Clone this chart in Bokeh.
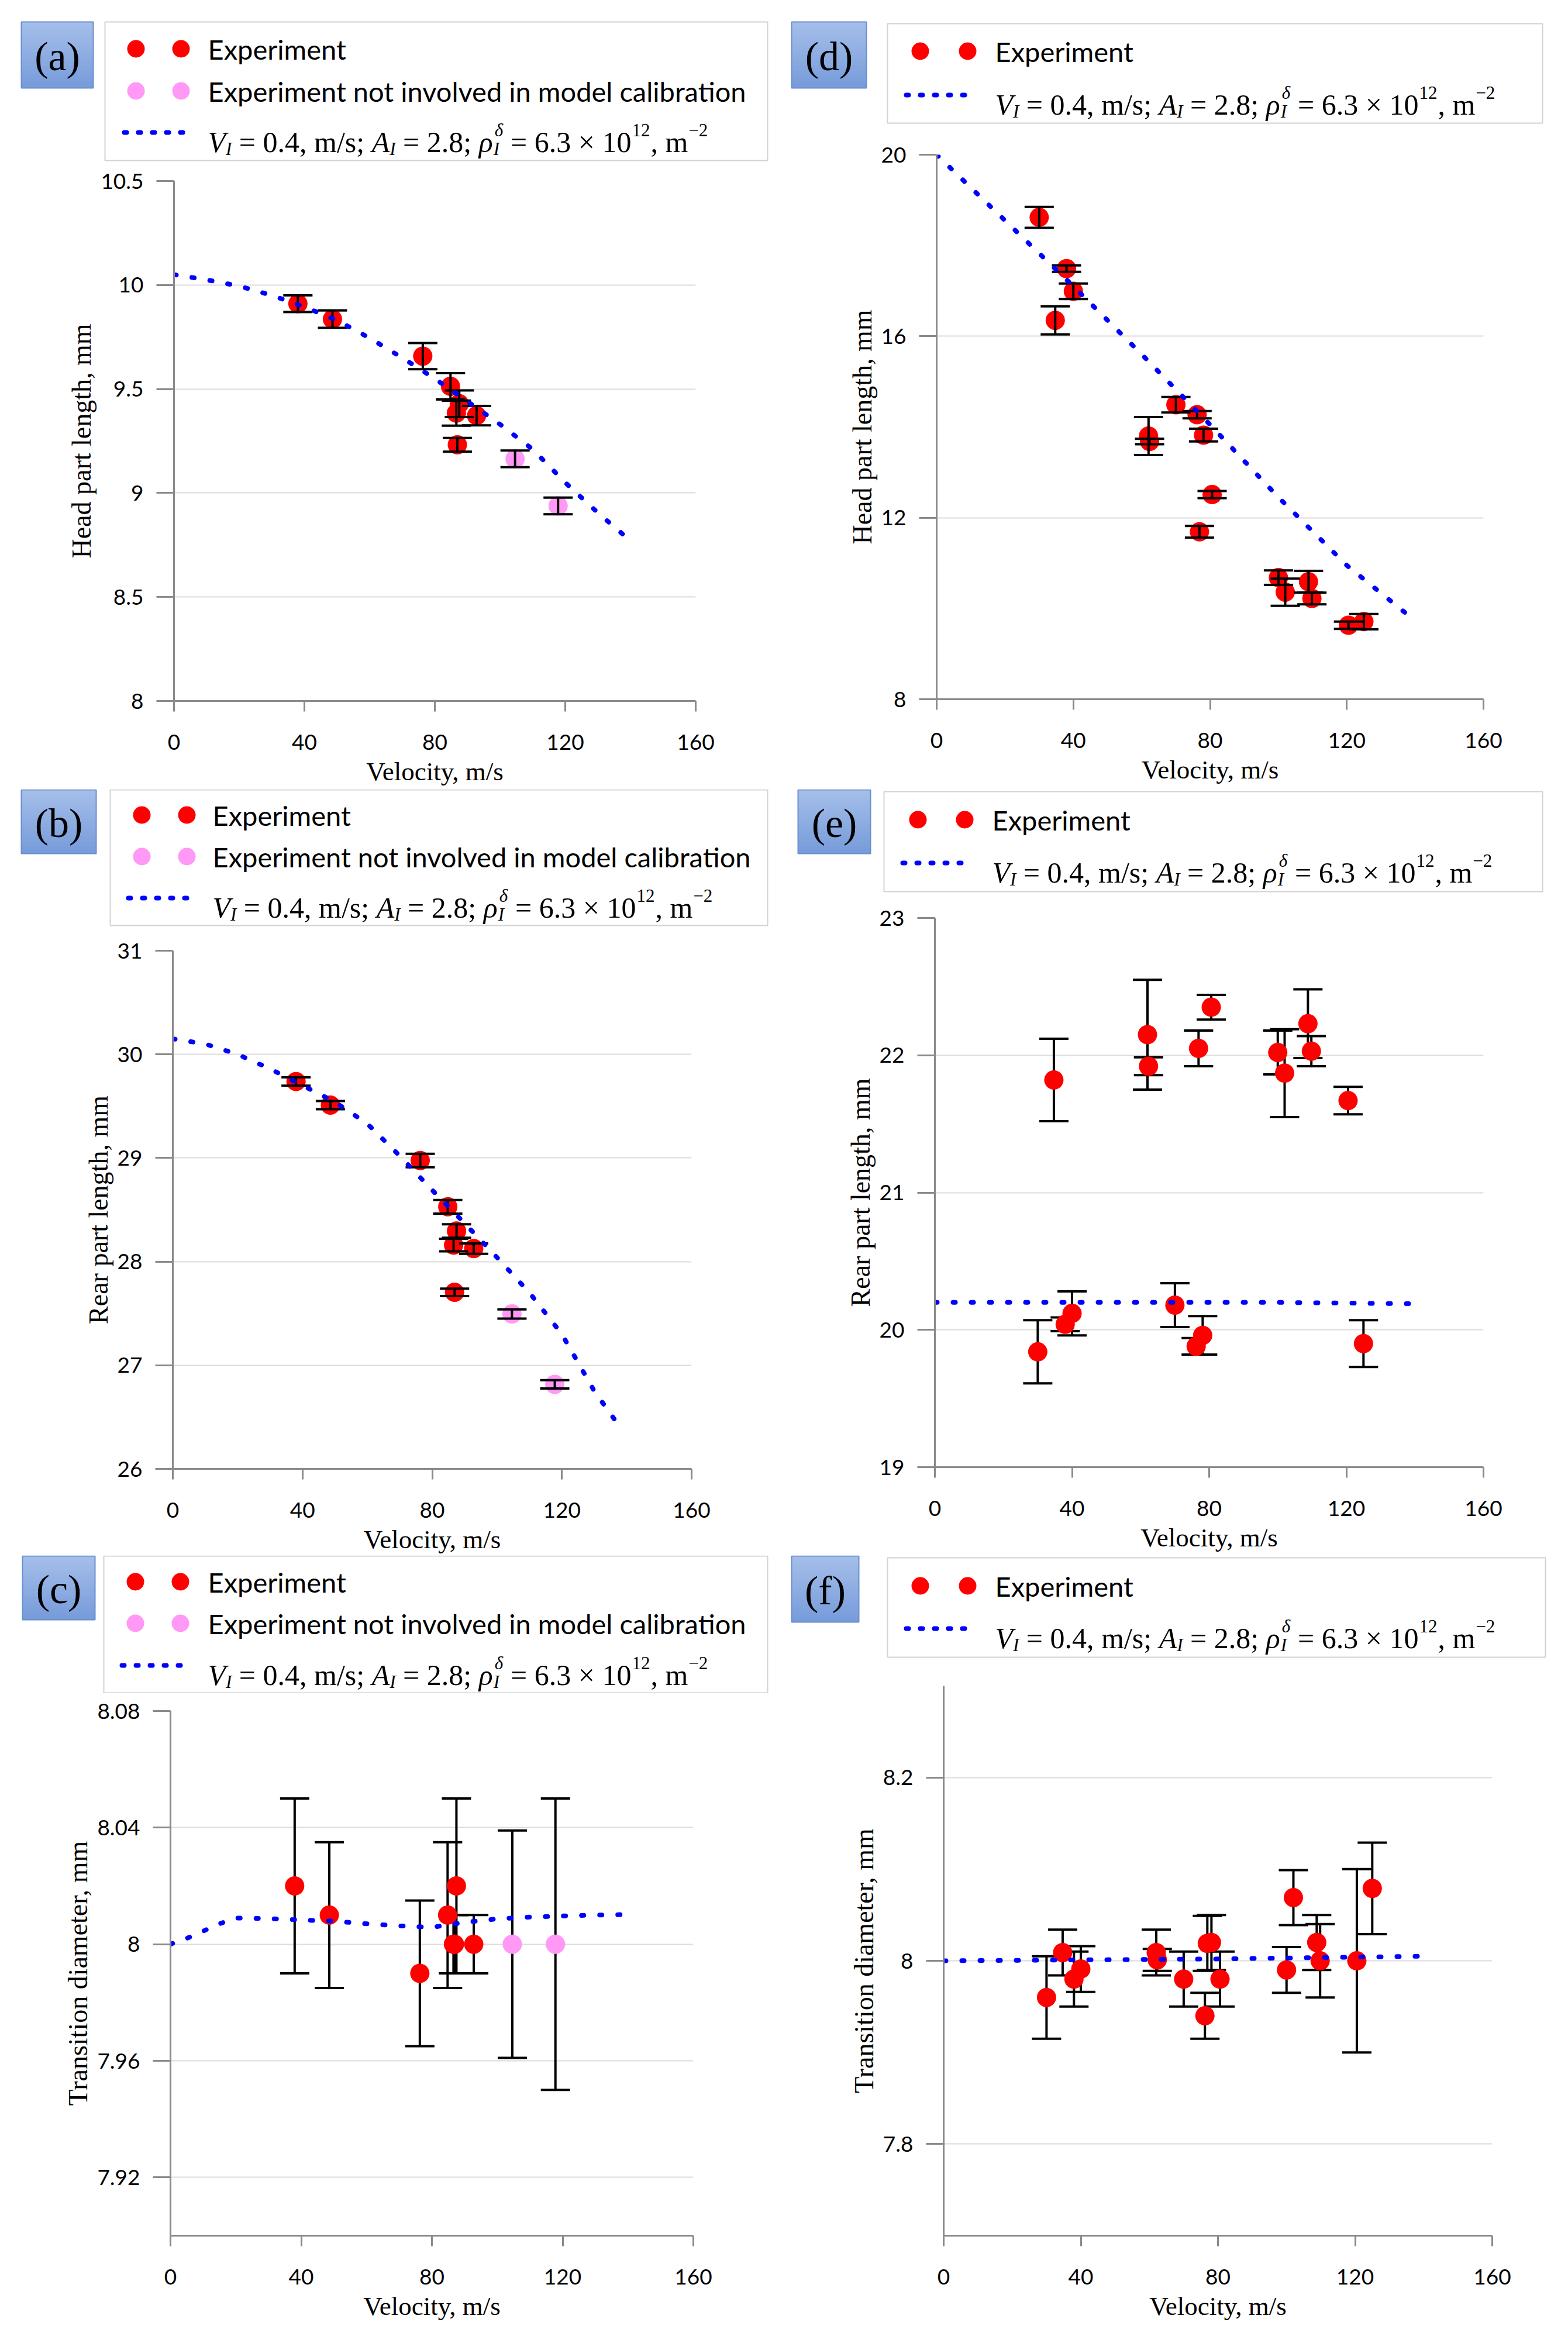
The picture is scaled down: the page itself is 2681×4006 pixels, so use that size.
import numpy as np
from bokeh.plotting import figure
from bokeh.layouts import column, row
from bokeh.models import Range1d, FixedTicker
from bokeh.core.properties import value
from bokeh.embed import file_html
from bokeh.resources import INLINE

# ------------------------------------------------------------------ data
x_ticks = [0, 40, 80, 120, 160]
x_labels = ["0", "40", "80", "120", "160"]

# experiment set 1 (panels a, b, c)
vel_1 = [38.0, 48.6, 76.3, 84.8, 87.5, 86.6, 92.8, 86.9]
vel_1_extra = [104.6, 117.8]          # not involved in calibration
head_1 = [9.910, 9.836, 9.658, 9.513, 9.429, 9.384, 9.372, 9.232]
head_1_err = [0.040, 0.042, 0.063, 0.063, 0.064, 0.060, 0.047, 0.033]
head_1_extra = [9.164, 8.938]
head_1_extra_err = [0.040, 0.040]
rear_1 = [29.738, 29.510, 28.976, 28.529, 28.296, 28.160, 28.126, 27.704]
rear_1_err = [0.040, 0.040, 0.065, 0.065, 0.065, 0.060, 0.050, 0.036]
rear_1_extra = [27.495, 26.816]
rear_1_extra_err = [0.044, 0.040]
diam_1 = [8.020, 8.010, 7.990, 8.010, 8.020, 8.000, 8.000, 8.000]
diam_1_err = [0.030, 0.025, 0.025, 0.025, 0.030, 0.010, 0.010, 0.010]
diam_1_extra = [8.000, 8.000]
diam_1_extra_err = [0.039, 0.050]

# model curves, set 1
model_v_a = [0, 10, 20, 30, 40, 50, 60, 70, 80, 90, 100, 110, 120, 130, 140]
model_head_1 = [10.05, 10.025, 9.995, 9.95, 9.895, 9.83, 9.745, 9.65, 9.55,
                9.44, 9.33, 9.21, 9.05, 8.905, 8.77]
model_v_b = [0, 10, 20, 30, 40, 50, 60, 70, 80, 90, 100, 110, 120, 130, 138]
model_rear_1 = [30.15, 30.10, 30.00, 29.86, 29.70, 29.54, 29.33, 29.02, 28.69,
                28.37, 28.04, 27.70, 27.30, 26.75, 26.40]
model_v_c = [0, 5, 10, 15, 20, 30, 40, 50, 60, 70, 80, 90, 100, 110, 120, 130, 140]
model_diam_1 = [8.0, 8.002, 8.0045, 8.007, 8.009, 8.0088, 8.0083, 8.0079, 8.007,
                8.0063, 8.0058, 8.0075, 8.0087, 8.0093, 8.0097, 8.010, 8.0102]

# experiment set 2 (panels d, e, f)
vel_2 = [30.0, 34.7, 38.0, 40.0, 62.0, 62.3, 70.0, 76.2, 76.9, 78.1, 80.6,
         100.0, 102.0, 108.8, 109.8, 120.5, 125.0]
head_2 = [18.62, 16.35, 17.49, 16.99, 13.80, 13.68, 14.49, 14.27, 11.69, 13.82,
          12.51, 10.68, 10.36, 10.59, 10.22, 9.63, 9.71]
head_2_err = [0.23, 0.31, 0.07, 0.17, 0.42, 0.06, 0.17, 0.08, 0.13, 0.14,
              0.08, 0.16, 0.30, 0.24, 0.13, 0.08, 0.17]
rear_2 = [19.84, 21.82, 20.04, 20.12, 22.15, 21.92, 20.18, 19.88, 22.05, 19.96,
          22.35, 22.02, 21.87, 22.23, 22.03, 21.67, 19.90]
rear_2_err = [0.23, 0.30, 0.05, 0.16, 0.40, 0.065, 0.16, 0.06, 0.13, 0.14,
              0.09, 0.16, 0.32, 0.25, 0.11, 0.10, 0.17]
diam_2 = [7.960, 8.009, 7.980, 7.991, 8.009, 8.001, 7.980, 7.940, 8.019, 8.020,
          7.980, 7.990, 8.069, 8.020, 8.000, 8.000, 8.079]
diam_2_err = [0.045, 0.025, 0.030, 0.025, 0.025, 0.012, 0.030, 0.025, 0.030, 0.030,
              0.030, 0.025, 0.030, 0.030, 0.040, 0.100, 0.050]

# model curves, set 2
model_v_2 = [0, 20, 40, 60, 80, 100, 120, 138]
model_head_2 = [20.0, 18.55, 17.1, 15.6, 14.05, 12.45, 10.95, 9.85]
model_v_2e = [0, 20, 40, 60, 80, 100, 120, 140]
model_rear_2 = [20.20, 20.20, 20.20, 20.20, 20.20, 20.20, 20.195, 20.19]
model_diam_2 = [8.000, 8.0005, 8.001, 8.0015, 8.002, 8.003, 8.004, 8.005]

y_ticks_a = [8, 8.5, 9, 9.5, 10, 10.5]
y_labels_a = ["8", "8.5", "9", "9.5", "10", "10.5"]
y_ticks_b = [26, 27, 28, 29, 30, 31]
y_labels_b = ["26", "27", "28", "29", "30", "31"]
y_ticks_c = [7.92, 7.96, 8.0, 8.04, 8.08]
y_labels_c = ["7.92", "7.96", "8", "8.04", "8.08"]
y_ticks_d = [8, 12, 16, 20]
y_labels_d = ["8", "12", "16", "20"]
y_ticks_e = [19, 20, 21, 22, 23]
y_labels_e = ["19", "20", "21", "22", "23"]
y_ticks_f = [7.8, 8.0, 8.2]
y_labels_f = ["7.8", "8", "8.2"]

leg_exp = "Experiment"
leg_extra = "Experiment not involved in model calibration"
x_title = "Velocity, m/s"

# ------------------------------------------------------------------ styles
RED = "#ff0000"
PINK = "#ff99f5"
BLUE = "#0000ff"
AXIS = "#8a8a8a"
GRID = "#dcdcdc"
SANS = "Lato"
SERIF = "Liberation Serif"

REG_W = {' ': 250, '=': 564, '.': 250, ',': 250, ';': 278, '/': 278, 'm': 778,
         's': 389, '×': 564, '−': 564}
ITA_W = {'V': 611, 'A': 611, 'I': 333, 'ρ': 500, 'δ': 480}


def tw(s, italic, size):
    tbl = ITA_W if italic else REG_W
    return sum(tbl.get(ch, 500) for ch in s) / 1000.0 * size


def put_text(q, x, y, s, font, size, style="normal", align="left", baseline="alphabetic", color="black"):
    q.text(x=[x], y=[y], text=[s], text_font=value(font), text_font_size=value(f"{size}px"),
           text_font_style=style, text_align=align, text_baseline=baseline, text_color=color)


def blank_fig(W, H):
    q = figure(width=W, height=H, x_range=Range1d(0, W), y_range=Range1d(H, 0),
               output_backend="svg", toolbar_location=None, min_border=0,
               x_axis_type=None, y_axis_type=None, frame_align=False)
    q.outline_line_color = None
    q.xgrid.visible = False
    q.ygrid.visible = False
    return q


def draw_formula(q, x, yc, fs=50):
    yb = yc + 0.33 * fs
    ss = 0.62 * fs
    sub_dy = 0.22 * fs
    sup_dy = -0.42 * fs
    pieces = [("V", True, "n"), ("I", True, "sub"), (" = 0.4, m/s; ", False, "n"),
              ("A", True, "n"), ("I", True, "sub"), (" = 2.8; ", False, "n"),
              ("ρ", True, "n"), (("δ", "I"), True, "supsub"), (" = 6.3 × 10", False, "n"),
              ("12", False, "sup"), (", m", False, "n"), ("−2", False, "sup")]
    cx = x
    for txt, ital, kind in pieces:
        style = "italic" if ital else "normal"
        if kind == "n":
            lead = len(txt) - len(txt.lstrip(" "))
            put_text(q, cx + tw(" " * lead, ital, fs), yb, txt.strip(" "), SERIF, fs, style)
            cx += tw(txt, ital, fs)
        elif kind == "sub":
            put_text(q, cx, yb + sub_dy, txt, SERIF, ss, style)
            cx += tw(txt, ital, ss)
        elif kind == "sup":
            put_text(q, cx + 1, yb + sup_dy, txt, SERIF, ss, style)
            cx += tw(txt, ital, ss) + 2
        else:
            put_text(q, cx + 2, yb + sup_dy, txt[0], SERIF, ss, style)
            put_text(q, cx, yb + sub_dy, txt[1], SERIF, ss, style)
            cx += max(tw(txt[0], ital, ss), tw(txt[1], ital, ss)) + 2


def make_legend(W, H, letter, lbox, box, rows, mx, lx, tx, with_extra):
    q = blank_fig(W, H)
    # panel letter box with vertical gradient
    x0, x1, y0, y1 = lbox
    c0 = np.array([0xa6, 0xbf, 0xea])
    c1 = np.array([0x76, 0x9b, 0xda])
    n = 28
    tops, bots, cols = [], [], []
    for i in range(n):
        t = (i + 0.5) / n
        c = c0 + (c1 - c0) * t
        cols.append("#%02x%02x%02x" % tuple(int(round(v)) for v in c))
        tops.append(y0 + (y1 - y0) * i / n)
        bots.append(y0 + (y1 - y0) * (i + 1) / n)
    q.quad(left=x0, right=x1, top=tops, bottom=bots, fill_color=cols, line_color=cols, line_width=1)
    q.quad(left=[x0], right=[x1], top=[y0], bottom=[y1], fill_color=None,
           line_color="#6a8ed0", line_width=2)
    put_text(q, (x0 + x1) / 2, (y0 + y1) / 2 + 2, f"({letter})", SERIF, 70,
             align="center", baseline="middle")
    # legend box
    bx0, bx1, by0, by1 = box
    q.quad(left=[bx0], right=[bx1], top=[by0], bottom=[by1], fill_color="white",
           line_color="#d2d2d2", line_width=2)
    r = 0
    q.scatter(x=mx, y=[rows[r]] * 2, size=30, fill_color=RED, line_color=None)
    put_text(q, tx, rows[r], leg_exp, SANS, 47, baseline="middle")
    r += 1
    if with_extra:
        q.scatter(x=mx, y=[rows[r]] * 2, size=30, fill_color=PINK, line_color=None)
        put_text(q, tx, rows[r], leg_extra, SANS, 47, baseline="middle")
        r += 1
    q.line(x=lx, y=[rows[r]] * 2, line_color=BLUE, line_width=8, line_dash="4 20",
           line_cap="round")
    draw_formula(q, tx, rows[r])
    return q


def make_plot(W, H, L, R, T, B, yr, yt, yl, ylab, series, mv, my, bars_on_top):
    p = figure(width=W, height=H, x_range=Range1d(0, 160), y_range=Range1d(*yr),
               output_backend="svg", toolbar_location=None, frame_align=False,
               min_border_left=L, min_border_right=R, min_border_top=T, min_border_bottom=B)
    p.outline_line_color = None
    p.xgrid.visible = False
    p.ygrid.grid_line_color = GRID
    p.ygrid.grid_line_width = 2
    xa = p.xaxis[0]
    ya = p.yaxis[0]
    xa.ticker = FixedTicker(ticks=x_ticks)
    xa.major_label_overrides = {t: s for t, s in zip(x_ticks, x_labels)}
    ya.ticker = FixedTicker(ticks=yt)
    ya.major_label_overrides = {t: s for t, s in zip(yt, yl)}
    for ax in (xa, ya):
        ax.axis_line_color = AXIS
        ax.axis_line_width = 3
        ax.major_tick_line_color = AXIS
        ax.major_tick_line_width = 3
        ax.minor_tick_line_color = None
        ax.major_tick_in = 0
        ax.major_label_text_font = SANS
        ax.major_label_text_font_size = "37px"
        ax.major_label_text_color = "black"
        ax.axis_label_text_font = SERIF
        ax.axis_label_text_font_style = "normal"
        ax.axis_label_text_color = "black"
    xa.major_tick_out = 18
    ya.major_tick_out = 30
    xa.major_label_standoff = 39
    ya.major_label_standoff = 22
    xa.axis_label = x_title
    xa.axis_label_text_font_size = "45px"
    xa.axis_label_standoff = 9
    ya.axis_label = ylab
    ya.axis_label_text_font_size = "46px"
    ya.axis_label_standoff = 4

    def bars():
        for v, y, e, c in series:
            lo = [a - b for a, b in zip(y, e)]
            hi = [a + b for a, b in zip(y, e)]
            p.segment(x0=v, y0=lo, x1=v, y1=hi, line_color="black", line_width=4)
            p.scatter(x=list(v) + list(v), y=lo + hi, marker="dash", size=50,
                      line_color="black", line_width=4)

    def dots():
        for v, y, e, c in series:
            p.scatter(x=v, y=y, size=33, fill_color=c, line_color=None)

    if bars_on_top:
        dots()
        bars()
    else:
        bars()
        dots()
    p.line(x=mv, y=my, line_color=BLUE, line_width=8, line_dash="4 27", line_cap="round")
    return p


def panel(W, leg_args, Hl, Hp, L, R, T, B, yr, yt, yl, ylab, series, mv, my, bars_on_top):
    leg = make_legend(W, Hl, *leg_args)
    plt = make_plot(W, Hp, L, R, T, B, yr, yt, yl, ylab, series, mv, my, bars_on_top)
    return column(leg, plt, spacing=0)


# ------------------------------------------------------------------ panels
W = 1340

pan_a = panel(W, ("a", (36, 159, 37, 150), (179, 1312, 37, 274), [83, 155, 226],
                  [232, 309], [212, 312], 355, True),
              277, 1072, 297, 151, 32, 151, (8, 10.5), y_ticks_a, y_labels_a,
              "Head part length, mm",
              [(vel_1, head_1, head_1_err, RED), (vel_1_extra, head_1_extra, head_1_extra_err, PINK)],
              model_v_a, model_head_1, True)

pan_d = panel(W, ("d", (13, 141, 37, 150), (177, 1297, 40, 210), [87, 162],
                  [233, 314], [209, 318], 361, False),
              232, 1117, 261, 144, 32, 154, (8, 20), y_ticks_d, y_labels_d,
              "Head part length, mm",
              [(vel_2, head_2, head_2_err, RED)], model_v_2, model_head_2, True)

pan_b = panel(W, ("b", (36, 164, 1, 110), (188, 1312, 1, 233), [44, 115, 186],
                  [242, 319], [219, 323], 363, True),
              244, 1066, 295, 158, 32, 147, (26, 31), y_ticks_b, y_labels_b,
              "Rear part length, mm",
              [(vel_1, rear_1, rear_1_err, RED), (vel_1_extra, rear_1_extra, rear_1_extra_err, PINK)],
              model_v_b, model_rear_1, True)

pan_e = panel(W, ("e", (24, 148, 1, 110), (171, 1297, 4, 175), [52, 126],
                  [229, 309], [203, 312], 356, False),
              188, 1122, 258, 144, 32, 151, (19, 23), y_ticks_e, y_labels_e,
              "Rear part length, mm",
              [(vel_2, rear_2, rear_2_err, RED)], model_v_2e, model_rear_2, False)

pan_c = panel(W, ("c", (38, 162, 1, 110), (177, 1312, 1, 235), [45, 116, 188],
                  [231, 308], [208, 312], 355, True),
              236, 1109, 291, 155, 30, 182, (7.9, 8.08), y_ticks_c, y_labels_c,
              "Transition diameter, mm",
              [(vel_1, diam_1, diam_1_err, RED), (vel_1_extra, diam_1_extra, diam_1_extra_err, PINK)],
              model_v_c, model_diam_1, False)

pan_f = panel(W, ("f", (13, 128, 1, 114), (177, 1302, 4, 174), [52, 125],
                  [233, 314], [209, 318], 361, False),
              191, 1154, 273, 129, 32, 182, (7.7, 8.3), y_ticks_f, y_labels_f,
              "Transition diameter, mm",
              [(vel_2, diam_2, diam_2_err, RED)], model_v_2e, model_diam_2, False)

layout = column(
    row(pan_a, pan_d, spacing=0),
    row(pan_b, pan_e, spacing=0),
    row(pan_c, pan_f, spacing=0),
    spacing=0,
)

open("out.html", "w").write(file_html(layout, INLINE))
